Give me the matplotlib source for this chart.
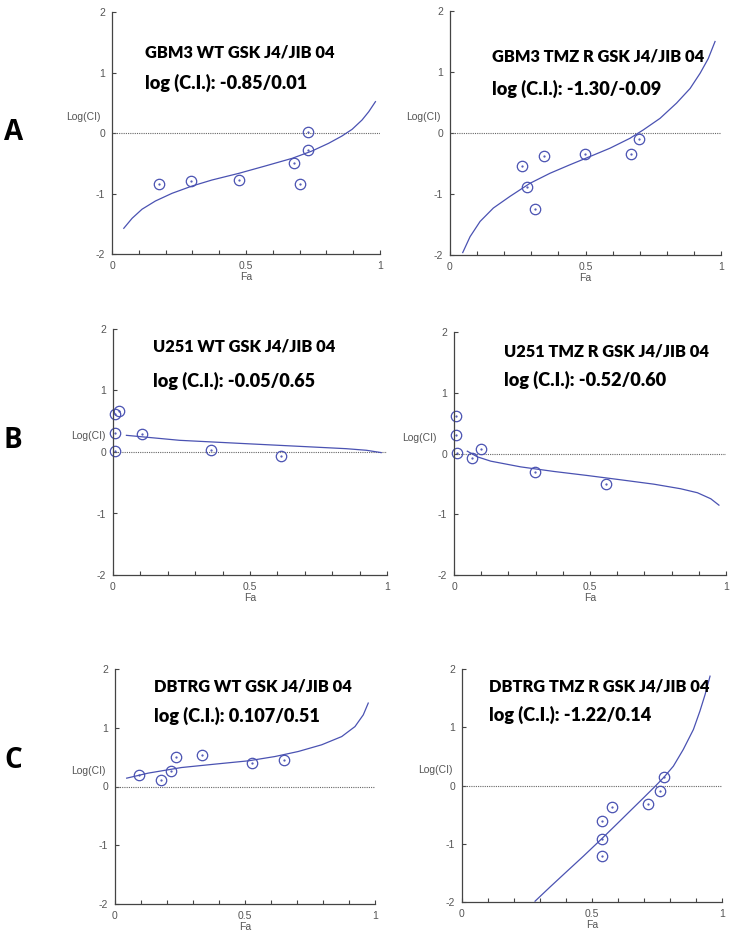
import matplotlib
matplotlib.use("Agg")
import matplotlib.pyplot as plt
import numpy as np

# ---- data (Fa, log(CI)) ----
# GBM3 WT
gbm_wt_fa = [0.174, 0.295, 0.475, 0.680, 0.700, 0.730, 0.730]
gbm_wt_ci = [-0.84, -0.79, -0.78, -0.50, -0.84, -0.28, 0.02]
gbm_wt_curve_fa = [0.044, 0.075, 0.112, 0.162, 0.224, 0.299, 0.373, 0.473, 0.572, 0.672,
                   0.746, 0.808, 0.858, 0.896, 0.933, 0.958, 0.983]
gbm_wt_curve_ci = [-1.575, -1.41, -1.26, -1.124, -0.997, -0.876, -0.777, -0.667, -0.545, -0.419,
                   -0.298, -0.171, -0.05, 0.061, 0.215, 0.352, 0.518]

# GBM3 TMZ R
gbm_r_fa = [0.264, 0.285, 0.315, 0.346, 0.497, 0.667, 0.696]
gbm_r_ci = [-0.54, -0.88, -1.24, -0.385, -0.34, -0.34, -0.10]
gbm_r_curve_fa = [0.047, 0.074, 0.111, 0.160, 0.221, 0.295, 0.369, 0.443, 0.517, 0.590,
                  0.664, 0.713, 0.775, 0.836, 0.886, 0.923, 0.953, 0.978]
gbm_r_curve_ci = [-1.96, -1.70, -1.45, -1.23, -1.04, -0.825, -0.66, -0.52, -0.385, -0.25,
                  -0.087, 0.05, 0.24, 0.49, 0.73, 0.98, 1.22, 1.50]

# U251 WT
u251_wt_fa = [0.009, 0.021, 0.009, 0.009, 0.107, 0.359, 0.613]
u251_wt_ci = [0.61, 0.66, 0.31, 0.016, 0.29, 0.03, -0.06]
u251_wt_curve_fa = [0.049, 0.243, 0.487, 0.730, 0.851, 0.925, 0.979]
u251_wt_curve_ci = [0.271, 0.19, 0.135, 0.081, 0.054, 0.028, -0.01]

# U251 TMZ R
u251_r_fa = [0.009, 0.009, 0.010, 0.067, 0.098, 0.298, 0.558]
u251_r_ci = [0.61, 0.30, 0.011, -0.071, 0.066, -0.30, -0.51]
u251_r_curve_fa = [0.049, 0.086, 0.135, 0.245, 0.368, 0.490, 0.613, 0.735, 0.833, 0.895, 0.944, 0.974]
u251_r_curve_ci = [0.038, -0.055, -0.126, -0.22, -0.296, -0.362, -0.433, -0.505, -0.58, -0.646, -0.745, -0.85]

# DBTRG WT
dbtrg_wt_fa = [0.092, 0.176, 0.214, 0.233, 0.333, 0.526, 0.650]
dbtrg_wt_ci = [0.199, 0.114, 0.267, 0.50, 0.528, 0.398, 0.454]
dbtrg_wt_curve_fa = [0.045, 0.128, 0.256, 0.385, 0.513, 0.615, 0.705, 0.795, 0.872, 0.923, 0.955, 0.974]
dbtrg_wt_curve_ci = [0.142, 0.228, 0.323, 0.381, 0.437, 0.51, 0.596, 0.71, 0.85, 1.02, 1.22, 1.42]

# DBTRG TMZ R
dbtrg_r_fa = [0.537, 0.537, 0.537, 0.578, 0.717, 0.762, 0.778]
dbtrg_r_ci = [-0.613, -0.916, -1.213, -0.372, -0.315, -0.097, 0.149]
dbtrg_r_curve_fa = [0.281, 0.338, 0.403, 0.467, 0.537, 0.595, 0.646, 0.697, 0.746, 0.778,
                    0.813, 0.851, 0.890, 0.915, 0.935, 0.954]
dbtrg_r_curve_ci = [-1.986, -1.745, -1.476, -1.213, -0.916, -0.664, -0.44, -0.217, 0.0, 0.149,
                    0.332, 0.618, 0.961, 1.276, 1.562, 1.877]

titles = ["GBM3 WT GSK J4/JIB 04", "GBM3 TMZ R GSK J4/JIB 04",
          "U251 WT GSK J4/JIB 04", "U251 TMZ R GSK J4/JIB 04",
          "DBTRG WT GSK J4/JIB 04", "DBTRG TMZ R GSK J4/JIB 04"]
ci_ranges = ["log (C.I.): -0.85/0.01", "log (C.I.): -1.30/-0.09",
             "log (C.I.): -0.05/0.65", "log (C.I.): -0.52/0.60",
             "log (C.I.): 0.107/0.51", "log (C.I.): -1.22/0.14"]
row_letters = ["A", "B", "C"]

W, H = 733, 938
fig = plt.figure(figsize=(W / 100, H / 100), dpi=100)

BLUE = "#4a52b2"
GRAY = "#555555"

# axes boxes in pixels: left, right, top, bottom
boxes = [(112, 380, 12, 254), (450, 721, 11, 255),
         (113, 387, 329, 575), (454, 726, 332, 575),
         (115, 375, 669, 904), (462, 722, 669, 902)]
# title line positions in pixels: x start, y line1, y line2
title_pos = [(145, 52, 83), (492, 57, 89),
             (153, 347, 381), (504, 351, 380),
             (154, 686, 716), (489, 686, 715)]
logci_off = [11, 9, 7, 17, 9, 9]

panels = [
    (gbm_wt_fa, gbm_wt_ci, gbm_wt_curve_fa, gbm_wt_curve_ci),
    (gbm_r_fa, gbm_r_ci, gbm_r_curve_fa, gbm_r_curve_ci),
    (u251_wt_fa, u251_wt_ci, u251_wt_curve_fa, u251_wt_curve_ci),
    (u251_r_fa, u251_r_ci, u251_r_curve_fa, u251_r_curve_ci),
    (dbtrg_wt_fa, dbtrg_wt_ci, dbtrg_wt_curve_fa, dbtrg_wt_curve_ci),
    (dbtrg_r_fa, dbtrg_r_ci, dbtrg_r_curve_fa, dbtrg_r_curve_ci),
]

tick_font = dict(family="Liberation Sans", size=7.5, color=GRAY)

for i, (fa, ci, cfa, cci) in enumerate(panels):
    l, r, t, b = boxes[i]
    ax = fig.add_axes([l / W, 1 - b / H, (r - l) / W, (b - t) / H])
    ax.set_xlim(0, 1)
    ax.set_ylim(-2, 2)
    for s in ["top", "right"]:
        ax.spines[s].set_visible(False)
    for s in ["left", "bottom"]:
        ax.spines[s].set_color("#444444")
        ax.spines[s].set_linewidth(0.9)

    ax.set_xticks([0, 0.5, 1])
    ax.set_xticks(np.arange(0, 1.01, 0.1), minor=True)
    ax.set_xticklabels(["0", "0.5", "1"], **tick_font)
    ax.set_yticks([-2, -1, 0, 1, 2])
    ax.set_yticklabels(["-2", "-1", "0", "1", "2"], **tick_font)
    ax.tick_params(which="both", direction="in", length=3, width=0.8, color="#444444", pad=5)

    ax.axhline(0, color="#666666", lw=0.8, ls=(0, (1, 1)))
    ax.plot(cfa, cci, color=BLUE, lw=0.9, clip_on=False, solid_joinstyle="round")
    ax.plot(fa, ci, "o", ms=7.5, mfc="none", mec=BLUE, mew=0.9, clip_on=False)
    ax.plot(fa, ci, ".", ms=1.2, color=BLUE, clip_on=False)

    ax.set_xlabel("Fa", fontdict=tick_font, labelpad=1)
    ax.annotate("Log(CI)", xy=(0, 0.26), xycoords=ax.get_yaxis_transform(),
                xytext=(-logci_off[i] * 0.72, 0), textcoords="offset points",
                ha="right", va="center", **tick_font)

    x0, y1, y2 = title_pos[i]
    fig.text(x0 / W, 1 - y1 / H, titles[i], fontsize=11.8, fontweight="heavy",
             family="Lato", ha="left", va="center")
    fig.text(x0 / W, 1 - y2 / H, ci_ranges[i], fontsize=13.1, fontweight="heavy",
             family="Lato", ha="left", va="center")

for letter, y in zip(row_letters, [133, 440, 760]):
    fig.text(4 / W, 1 - y / H, letter, fontsize=20, fontweight="bold",
             family="Open Sans", ha="left", va="center")

fig.savefig("out.png", dpi=100)
